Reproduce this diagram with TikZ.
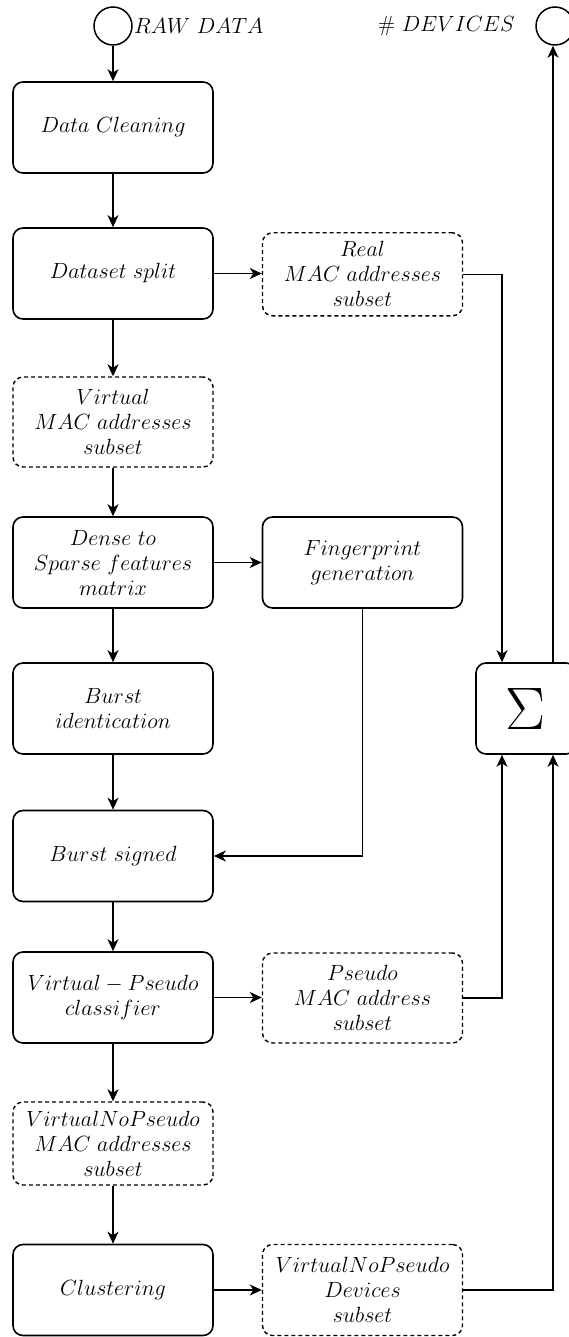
\RequirePackage{fix-cm}
\documentclass[tikz,border=0pt]{standalone}
\usetikzlibrary{arrows.meta}
\begin{document}
\begin{tikzpicture}[x=1pt,y=-1pt,
  stage/.style={draw, line width=1.6pt, rounded corners=10pt,
    minimum width=200pt, minimum height=91pt, align=center, inner sep=0pt,
    font=\fontsize{22}{25}\selectfont},
  subset/.style={stage, line width=1.4pt, dash pattern=on 4pt off 3pt},
  terminal/.style={draw, line width=1.5pt, circle, minimum size=38pt, inner sep=0pt},
  tag/.style={inner sep=0pt, font=\fontsize{22}{25}\selectfont},
  tip/.style={-{Stealth[length=12pt,width=11pt,inset=3.5pt]}},
  flow/.style={line width=1.6pt, tip},
  link/.style={line width=1.3pt, tip}]
\useasboundingbox (0,0) rectangle (569,1337);

% terminals
\node[terminal] (raw) at (113,26) {};
\node[tag, anchor=west] (rawlbl) at (134,26) {$RAW\ DATA$};
\node[terminal] (dev) at (555,26) {};
\node[tag, anchor=east] (devlbl) at (515,26) {$\#\ DEVICES$};

% main column
\node[stage] (dc) at (113,127.5) {$Data\ Cleaning$};
\node[stage] (ds) at (113,273.5) {$Dataset\ split$};
\node[subset, minimum height=90pt] (vs) at (113,422) {$Virtual$\\$MAC\ addresses$\\$subset$};
\node[stage] (dense) at (113,562.5) {$Dense\ to$\\$Sparse\ features$\\$matrix$};
\node[stage] (bi) at (113,708.5) {$Burst$\\$identication$};
\node[stage] (bs) at (113,856) {$Burst\ signed$};
\node[stage] (vp) at (113,997.5) {$Virtual-Pseudo$\\$classifier$};
\node[subset, minimum height=83pt] (vnp) at (113,1143.5) {$VirtualNoPseudo$\\$MAC\ addresses$\\$subset$};
\node[stage] (cl) at (113,1290) {$Clustering$};

% side column
\node[subset, minimum height=83pt] (real) at (362.5,274.3) {$Real$\\$MAC\ addresses$\\$subset$};
\node[stage] (fp) at (362.5,562.5) {$Fingerprint$\\$generation$};
\node[subset, minimum height=90pt] (pseudo) at (362.5,998) {$Pseudo$\\$MAC\ address$\\$subset$};
\node[subset, minimum height=91pt] (vnpdev) at (362.5,1290) {$VirtualNoPseudo$\\$Devices$\\$subset$};

% aggregation
\node[stage, minimum width=100pt, font=\fontsize{60}{62}\selectfont] (sigma) at (526,708.5) {$\Sigma$};
\coordinate (xa) at (502,0);
\coordinate (xb) at (553,0);

% main flow
\draw[flow] (raw) -- (dc);
\draw[flow] (dc) -- (ds);
\draw[flow] (ds) -- (vs);
\draw[flow] (vs) -- (dense);
\draw[flow] (dense) -- (bi);
\draw[flow] (bi) -- (bs);
\draw[flow] (bs) -- (vp);
\draw[flow] (vp) -- (vnp);
\draw[flow] (vnp) -- (cl);

% side branches
\draw[flow] (ds.east) -- (ds.east -| real.west);
\draw[flow] (dense.east) -- (dense.east -| fp.west);
\draw[flow] (vp.east) -- (vp.east -| pseudo.west);
\draw[flow] (cl.east) -- (cl.east -| vnpdev.west);
\draw[link] (fp.south) |- (bs.east);

% into the sum
\draw[link] (real.east) -| (xa |- sigma.north);
\draw[link] (pseudo.east) -| (xa |- sigma.south);
\draw[link] (vnpdev.east) -| (xb |- sigma.south);
\draw[link] (xb |- sigma.north) -- (xb |- dev.south);
\end{tikzpicture}
\end{document}
